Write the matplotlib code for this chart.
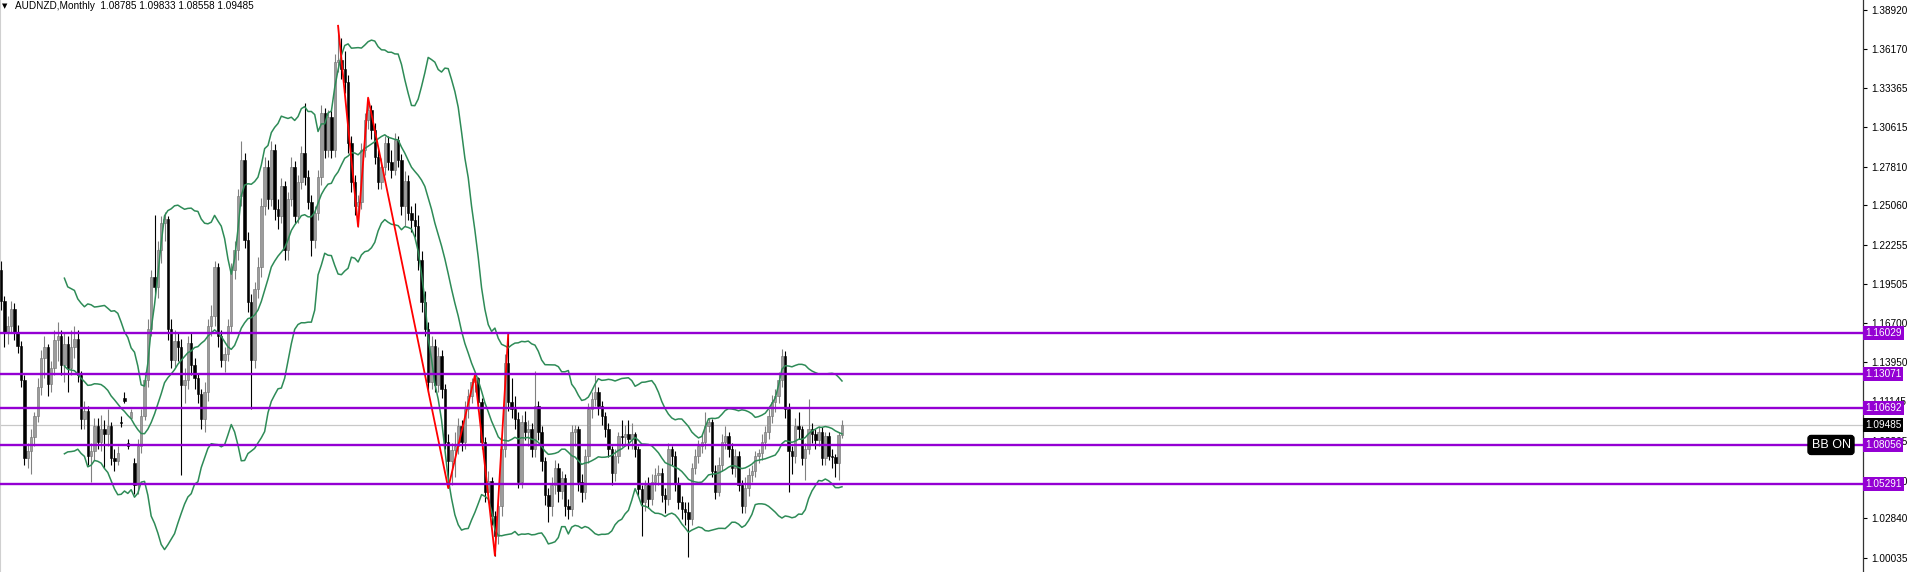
import numpy as np
import pandas as pd
import matplotlib.pyplot as plt

# AUDNZD monthly candles
opens = [
    1.205, 1.183, 1.160, 1.165, 1.177, 1.160, 1.151, 1.127, 1.071, 1.076,
    1.086, 1.101, 1.122, 1.142, 1.150, 1.124, 1.135, 1.155, 1.158, 1.137,
    1.152, 1.135, 1.150, 1.156, 1.130, 1.099, 1.105, 1.073, 1.076, 1.094,
    1.083, 1.092, 1.088, 1.094, 1.071, 1.069, 1.097, 1.114, 1.082, 1.100,
    1.068, 1.052, 1.080, 1.101, 1.127, 1.163, 1.200, 1.193, 1.219, 1.238,
    1.241, 1.163, 1.141, 1.154, 1.150, 1.123, 1.127, 1.153, 1.137, 1.128,
    1.117, 1.099, 1.118, 1.165, 1.172, 1.207, 1.158, 1.141, 1.145, 1.165,
    1.205, 1.219, 1.257, 1.283, 1.226, 1.182, 1.141, 1.191, 1.207, 1.250,
    1.278, 1.255, 1.290, 1.248, 1.243, 1.264, 1.219, 1.255, 1.278, 1.243,
    1.267, 1.288, 1.271, 1.253, 1.226, 1.245, 1.271, 1.316, 1.290, 1.313,
    1.290, 1.352, 1.354, 1.347, 1.338, 1.295, 1.267, 1.250, 1.253, 1.290,
    1.311, 1.318, 1.304, 1.285, 1.267, 1.278, 1.295, 1.281, 1.276, 1.297,
    1.283, 1.250, 1.268, 1.245, 1.240, 1.236, 1.212, 1.182, 1.163, 1.125,
    1.151, 1.123, 1.144, 1.120, 1.083, 1.069, 1.077, 1.080, 1.094, 1.083,
    1.106, 1.115, 1.125, 1.128, 1.111, 1.083, 1.047, 1.055, 1.030, 1.016,
    1.037, 1.078, 1.139, 1.111, 1.106, 1.099, 1.054, 1.097, 1.090, 1.092,
    1.078, 1.108, 1.090, 1.069, 1.045, 1.037, 1.052, 1.064, 1.048, 1.057,
    1.037, 1.035, 1.090, 1.092, 1.054, 1.047, 1.073, 1.106, 1.113, 1.118,
    1.108, 1.101, 1.092, 1.078, 1.061, 1.073, 1.087, 1.086, 1.088, 1.085,
    1.088, 1.078, 1.049, 1.040, 1.052, 1.042, 1.054, 1.059, 1.061, 1.045,
    1.042, 1.078, 1.073, 1.053, 1.040, 1.035, 1.033, 1.028, 1.064, 1.073,
    1.080, 1.083, 1.094, 1.097, 1.062, 1.047, 1.066, 1.083, 1.087, 1.078,
    1.064, 1.073, 1.052, 1.037, 1.050, 1.059, 1.062, 1.073, 1.075, 1.083,
    1.090, 1.101, 1.111, 1.115, 1.127, 1.144, 1.106, 1.076, 1.073, 1.094,
    1.092, 1.071, 1.078, 1.092, 1.088, 1.084, 1.090, 1.071, 1.087, 1.073,
    1.072, 1.068, 1.08785,
]
highs = [
    1.211, 1.186, 1.172, 1.183, 1.181, 1.166, 1.154, 1.130, 1.082, 1.092,
    1.104, 1.128, 1.148, 1.158, 1.152, 1.140, 1.162, 1.168, 1.162, 1.160,
    1.158, 1.162, 1.165, 1.162, 1.133, 1.112, 1.108, 1.082, 1.100, 1.100,
    1.102, 1.098, 1.106, 1.097, 1.078, 1.080, 1.101, 1.118, 1.085, 1.106,
    1.071, 1.085, 1.106, 1.132, 1.170, 1.205, 1.244, 1.225, 1.243, 1.246,
    1.243, 1.170, 1.162, 1.160, 1.156, 1.135, 1.158, 1.160, 1.142, 1.131,
    1.120, 1.125, 1.170, 1.180, 1.211, 1.210, 1.162, 1.150, 1.170, 1.210,
    1.225, 1.262, 1.296, 1.288, 1.232, 1.188, 1.196, 1.214, 1.256, 1.285,
    1.283, 1.296, 1.294, 1.255, 1.270, 1.268, 1.260, 1.285, 1.282, 1.272,
    1.293, 1.323, 1.276, 1.258, 1.250, 1.276, 1.322, 1.320, 1.318, 1.318,
    1.358, 1.378, 1.369, 1.360, 1.343, 1.300, 1.272, 1.258, 1.295, 1.316,
    1.327, 1.322, 1.309, 1.290, 1.284, 1.300, 1.300, 1.290, 1.302, 1.300,
    1.287, 1.275, 1.272, 1.250, 1.252, 1.244, 1.218, 1.190, 1.168, 1.158,
    1.156, 1.150, 1.148, 1.124, 1.088, 1.082, 1.090, 1.100, 1.098, 1.112,
    1.120, 1.128, 1.130, 1.129, 1.114, 1.086, 1.062, 1.058, 1.034, 1.042,
    1.082, 1.145, 1.160, 1.128, 1.115, 1.104, 1.102, 1.105, 1.098, 1.096,
    1.133, 1.112, 1.094, 1.072, 1.050, 1.058, 1.070, 1.068, 1.062, 1.060,
    1.042, 1.095, 1.095, 1.094, 1.060, 1.078, 1.110, 1.118, 1.130, 1.122,
    1.112, 1.104, 1.096, 1.080, 1.078, 1.090, 1.098, 1.095, 1.098, 1.096,
    1.090, 1.080, 1.052, 1.056, 1.058, 1.060, 1.064, 1.066, 1.064, 1.050,
    1.082, 1.080, 1.076, 1.058, 1.044, 1.040, 1.040, 1.068, 1.078, 1.084,
    1.088, 1.104, 1.100, 1.099, 1.066, 1.072, 1.088, 1.094, 1.090, 1.082,
    1.078, 1.076, 1.056, 1.058, 1.064, 1.066, 1.076, 1.078, 1.088, 1.094,
    1.106, 1.116, 1.120, 1.132, 1.149, 1.147, 1.110, 1.080, 1.100, 1.104,
    1.094, 1.082, 1.113, 1.096, 1.092, 1.094, 1.093, 1.090, 1.090, 1.078,
    1.074, 1.090, 1.09833,
]
lows = [
    1.176, 1.150, 1.152, 1.160, 1.155, 1.146, 1.122, 1.066, 1.064, 1.060,
    1.080, 1.097, 1.116, 1.128, 1.115, 1.118, 1.130, 1.140, 1.130, 1.125,
    1.118, 1.130, 1.142, 1.125, 1.092, 1.092, 1.066, 1.054, 1.070, 1.078,
    1.076, 1.064, 1.080, 1.066, 1.062, 1.066, 1.093, 1.110, 1.078, 1.099,
    1.046, 1.046, 1.075, 1.098, 1.122, 1.158, 1.188, 1.185, 1.210, 1.225,
    1.155, 1.135, 1.136, 1.140, 1.059, 1.110, 1.120, 1.130, 1.120, 1.110,
    1.092, 1.090, 1.112, 1.158, 1.165, 1.150, 1.136, 1.132, 1.140, 1.160,
    1.198, 1.212, 1.250, 1.220, 1.175, 1.106, 1.135, 1.185, 1.200, 1.244,
    1.248, 1.250, 1.240, 1.234, 1.238, 1.212, 1.212, 1.250, 1.238, 1.238,
    1.262, 1.265, 1.248, 1.215, 1.220, 1.240, 1.265, 1.284, 1.285, 1.284,
    1.285, 1.345, 1.340, 1.330, 1.288, 1.260, 1.244, 1.2355, 1.248, 1.285,
    1.305, 1.298, 1.280, 1.262, 1.262, 1.272, 1.276, 1.270, 1.272, 1.278,
    1.244, 1.236, 1.240, 1.232, 1.228, 1.205, 1.175, 1.158, 1.118, 1.120,
    1.118, 1.118, 1.114, 1.078, 1.050, 1.052, 1.058, 1.074, 1.076, 1.078,
    1.100, 1.110, 1.118, 1.105, 1.078, 1.040, 1.040, 1.024, 1.002, 1.010,
    1.030, 1.072, 1.105, 1.100, 1.092, 1.050, 1.050, 1.084, 1.080, 1.072,
    1.072, 1.084, 1.062, 1.038, 1.026, 1.030, 1.046, 1.040, 1.042, 1.030,
    1.028, 1.030, 1.080, 1.048, 1.040, 1.042, 1.068, 1.100, 1.108, 1.102,
    1.095, 1.086, 1.072, 1.052, 1.055, 1.068, 1.080, 1.080, 1.078, 1.078,
    1.072, 1.044, 1.016, 1.034, 1.036, 1.038, 1.048, 1.052, 1.040, 1.032,
    1.038, 1.066, 1.048, 1.035, 1.028, 1.024, 1.001, 1.024, 1.060, 1.068,
    1.075, 1.078, 1.090, 1.058, 1.042, 1.044, 1.062, 1.078, 1.072, 1.060,
    1.058, 1.048, 1.032, 1.032, 1.044, 1.054, 1.058, 1.068, 1.070, 1.078,
    1.085, 1.096, 1.104, 1.110, 1.122, 1.100, 1.047, 1.060, 1.068, 1.085,
    1.066, 1.056, 1.074, 1.082, 1.078, 1.080, 1.066, 1.066, 1.070, 1.064,
    1.058, 1.056, 1.08558,
]
closes = [
    1.183, 1.160, 1.165, 1.177, 1.160, 1.151, 1.127, 1.071, 1.076, 1.086,
    1.101, 1.122, 1.142, 1.150, 1.124, 1.135, 1.155, 1.158, 1.137, 1.152,
    1.135, 1.150, 1.156, 1.130, 1.099, 1.105, 1.073, 1.076, 1.094, 1.083,
    1.092, 1.088, 1.094, 1.071, 1.069, 1.075, 1.096, 1.112, 1.080, 1.104,
    1.052, 1.080, 1.101, 1.127, 1.163, 1.200, 1.193, 1.219, 1.238, 1.241,
    1.163, 1.141, 1.154, 1.150, 1.123, 1.127, 1.153, 1.137, 1.128, 1.117,
    1.099, 1.118, 1.165, 1.172, 1.207, 1.158, 1.141, 1.145, 1.165, 1.205,
    1.219, 1.257, 1.283, 1.226, 1.182, 1.141, 1.191, 1.207, 1.250, 1.278,
    1.255, 1.290, 1.248, 1.243, 1.264, 1.219, 1.255, 1.278, 1.243, 1.267,
    1.288, 1.271, 1.253, 1.226, 1.245, 1.271, 1.316, 1.290, 1.313, 1.290,
    1.352, 1.354, 1.347, 1.338, 1.295, 1.267, 1.250, 1.253, 1.290, 1.311,
    1.318, 1.304, 1.285, 1.267, 1.278, 1.295, 1.281, 1.276, 1.297, 1.283,
    1.250, 1.268, 1.245, 1.240, 1.236, 1.212, 1.182, 1.163, 1.125, 1.151,
    1.123, 1.144, 1.120, 1.083, 1.069, 1.077, 1.080, 1.094, 1.083, 1.106,
    1.115, 1.125, 1.128, 1.111, 1.083, 1.047, 1.055, 1.030, 1.016, 1.037,
    1.078, 1.139, 1.111, 1.106, 1.099, 1.054, 1.097, 1.090, 1.092, 1.078,
    1.108, 1.090, 1.069, 1.045, 1.037, 1.052, 1.064, 1.048, 1.057, 1.037,
    1.035, 1.090, 1.092, 1.054, 1.047, 1.073, 1.106, 1.113, 1.118, 1.108,
    1.101, 1.092, 1.078, 1.061, 1.073, 1.087, 1.086, 1.088, 1.085, 1.088,
    1.078, 1.049, 1.040, 1.052, 1.042, 1.054, 1.059, 1.061, 1.045, 1.042,
    1.078, 1.073, 1.053, 1.040, 1.035, 1.033, 1.028, 1.064, 1.073, 1.080,
    1.083, 1.094, 1.097, 1.062, 1.047, 1.066, 1.083, 1.087, 1.078, 1.064,
    1.073, 1.052, 1.037, 1.050, 1.059, 1.062, 1.073, 1.075, 1.083, 1.090,
    1.101, 1.111, 1.115, 1.127, 1.144, 1.106, 1.076, 1.073, 1.094, 1.092,
    1.071, 1.078, 1.092, 1.088, 1.084, 1.090, 1.071, 1.087, 1.073, 1.072,
    1.068, 1.08785, 1.09485,
]

# zigzag pivots (price, H = high / L = low)
zz_prices = [1.378, 1.2355, 1.327, 1.050, 1.130, 1.002, 1.160]
zz_kinds = ["H", "L", "H", "L", "H", "L", "H"]

# horizontal levels
levels = [1.16029, 1.13071, 1.10692, 1.08056, 1.05291]
last_price = 1.09485

yticks = [1.38920, 1.36170, 1.33365, 1.30615, 1.27810, 1.25060, 1.22255,
          1.19505, 1.16700, 1.13950, 1.11145, 1.08305, 1.05500, 1.02840,
          1.00035]

title = "AUDNZD,Monthly  1.08785 1.09833 1.08558 1.09485"

W, H = 1912, 572
AX_R = 1863
fig = plt.figure(figsize=(W / 100, H / 100), dpi=100)
ax = fig.add_axes([0, 0, AX_R / W, 1])

o = np.array(opens)
h = np.array(highs)
l = np.array(lows)
c = np.array(closes)
N = len(c)
x = np.arange(N)
bull = c >= o

# wicks
ax.vlines(x[bull], l[bull], h[bull], color="#808080", lw=0.8, zorder=2)
ax.vlines(x[~bull], l[~bull], h[~bull], color="black", lw=0.8, zorder=2)
# bodies
body = np.maximum(np.abs(c - o), 0.0008)
ax.bar(x[bull], body[bull], bottom=o[bull], width=0.72, color="#9c9c9c",
       edgecolor="#6e6e6e", lw=0.4, zorder=3)
ax.bar(x[~bull], body[~bull], bottom=c[~bull], width=0.72, color="black",
       edgecolor="black", lw=0.4, zorder=3)

# Bollinger bands (20, 2)
s = pd.Series(c)
mid = s.rolling(20).mean()
sd = s.rolling(20).std(ddof=0)
for band in (mid, mid + 2 * sd, mid - 2 * sd):
    ax.plot(x, band, color="#2e8b57", lw=1.1, zorder=4)

# zigzag
zx, zy = [], []
start = 0
for p, k in zip(zz_prices, zz_kinds):
    arr = highs if k == "H" else lows
    idx = next(i for i in range(start, N) if abs(arr[i] - p) < 1e-9)
    zx.append(idx)
    zy.append(p)
    start = idx + 1
ax.plot(zx, zy, color="red", lw=1.3, zorder=5)

# horizontal lines
ax.axhline(last_price, color="#c8c8c8", lw=0.9, zorder=1)
for lv in levels:
    ax.axhline(lv, color="#9400d3", lw=1.7, zorder=6)

spacing = 841 / (N - 1)
ax.set_xlim(-1 / spacing, (AX_R - 1) / spacing)
top_p, scale = 1.38920, 1409.3
ax.set_ylim(top_p - 562 / scale, top_p + 10 / scale)

ax.set_xticks([])
ax.yaxis.tick_right()
ax.set_yticks(yticks)
ax.set_yticklabels([f"{t:.5f}" for t in yticks], fontfamily="Liberation Sans")
ax.tick_params(axis="y", length=3, width=0.8, pad=3, labelsize=7.2,
               colors="black")
for side in ("top", "bottom"):
    ax.spines[side].set_visible(False)
ax.spines["right"].set_color("#333333")
ax.spines["right"].set_linewidth(0.9)
ax.spines["left"].set_color("#d0d0d0")

def ypix(p):
    return (p - (top_p - 562 / scale)) / (572 / scale)

lab_x = (AX_R + 2) / W
for lv in levels:
    fig.text(lab_x, ypix(lv), f"{lv:.5f}", color="white", fontsize=7.2,
             family="Liberation Sans", va="center", ha="left",
             bbox=dict(boxstyle="square,pad=0.2", fc="#9400d3", ec="none"))
fig.text(lab_x, ypix(last_price), f"{last_price:.5f}", color="white",
         fontsize=7.2, family="Liberation Sans", va="center", ha="left",
         bbox=dict(boxstyle="square,pad=0.2", fc="black", ec="none"))

fig.text(1831 / W, ypix(levels[3]), "BB ON", color="white", fontsize=9,
         family="Liberation Sans", va="center", ha="center",
         bbox=dict(boxstyle="round,pad=0.28,rounding_size=0.25", fc="black",
                   ec="black"))

fig.text(2 / W, 1 - 6 / H, "\u25bc", fontsize=5, color="black",
         family=["DejaVu Sans"], va="center", ha="left")
fig.text(15 / W, 1 - 6 / H, title, fontsize=7.2, color="black",
         family="Liberation Sans", va="center", ha="left")

fig.savefig("out.png", dpi=100)
